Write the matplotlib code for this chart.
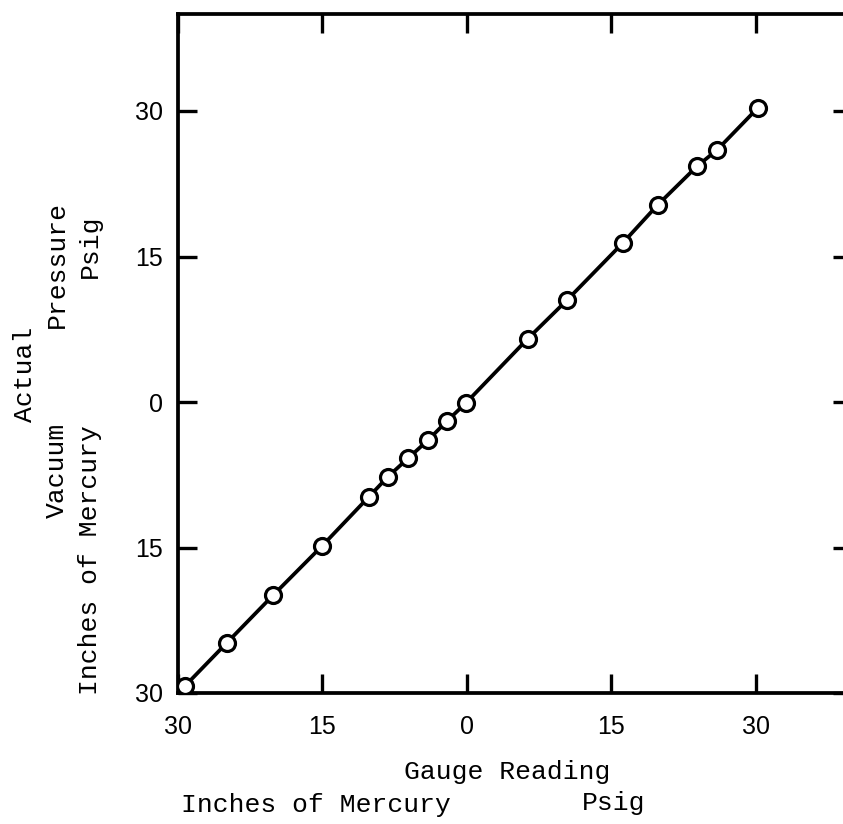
import matplotlib.pyplot as plt

# gauge reading vs actual (negative side = vacuum, in. Hg; positive = psig)
gauge = [-29.3, -24.9, -20.1, -15.0, -10.2, -8.2, -6.1, -4.0, -2.1, -0.1,
         6.3, 10.4, 16.2, 19.8, 23.9, 26.0, 30.2]
actual = [-29.3, -24.8, -19.9, -14.8, -9.8, -7.7, -5.8, -3.9, -2.0, -0.1,
          6.5, 10.5, 16.4, 20.3, 24.3, 26.0, 30.3]

tick_vals = [-30, -15, 0, 15, 30]
tick_labels = ['30', '15', '0', '15', '30']

W, H = 843, 824
MONO = 'Liberation Mono'

fig = plt.figure(figsize=(W / 100, H / 100), dpi=100)
# right spine falls just outside the picture, as in the scan
ax = fig.add_axes([178 / W, (H - 693) / H, 674 / W, 679 / H])

ax.plot(gauge, actual, '-o', color='black', lw=2.7, ms=11.5,
        mfc='white', mec='black', mew=2.3, zorder=3)

ax.set_xlim(-30, 40)
ax.set_ylim(-30, 40)
ax.set_xticks(tick_vals)
ax.set_xticklabels(tick_labels)
ax.set_yticks(tick_vals)
ax.set_yticklabels(tick_labels)

for s in ax.spines.values():
    s.set_linewidth(2.7)

ax.tick_params(axis='both', direction='in', length=14, width=2.4,
               top=True, right=True, labelsize=18)
ax.tick_params(axis='x', pad=16)
ax.tick_params(axis='y', pad=11)
for lab in ax.get_xticklabels() + ax.get_yticklabels():
    lab.set_family('Liberation Sans')

# x axis captions
fig.text(507 / W, 1 - 772 / H, 'Gauge Reading', family=MONO, fontsize=19,
         ha='center', va='center')
fig.text(316 / W, 1 - 805 / H, 'Inches of Mercury', family=MONO, fontsize=19,
         ha='center', va='center')
fig.text(614 / W, 1 - 803 / H, 'Psig', family=MONO, fontsize=19,
         ha='center', va='center')

# y axis captions
fig.text(25 / W, 1 - 374 / H, 'Actual', family=MONO, fontsize=19,
         rotation=90, ha='center', va='center')
fig.text(57 / W, 1 - 264 / H, 'Pressure', family=MONO, fontsize=19,
         rotation=90, ha='center', va='center')
fig.text(90 / W, 1 - 246 / H, 'Psig', family=MONO, fontsize=19,
         rotation=90, ha='center', va='center')
fig.text(57 / W, 1 - 470 / H, 'Vacuum', family=MONO, fontsize=19,
         rotation=90, ha='center', va='center')
fig.text(90 / W, 1 - 560 / H, 'Inches of Mercury', family=MONO, fontsize=19,
         rotation=90, ha='center', va='center')

fig.savefig('out.png', dpi=100)
